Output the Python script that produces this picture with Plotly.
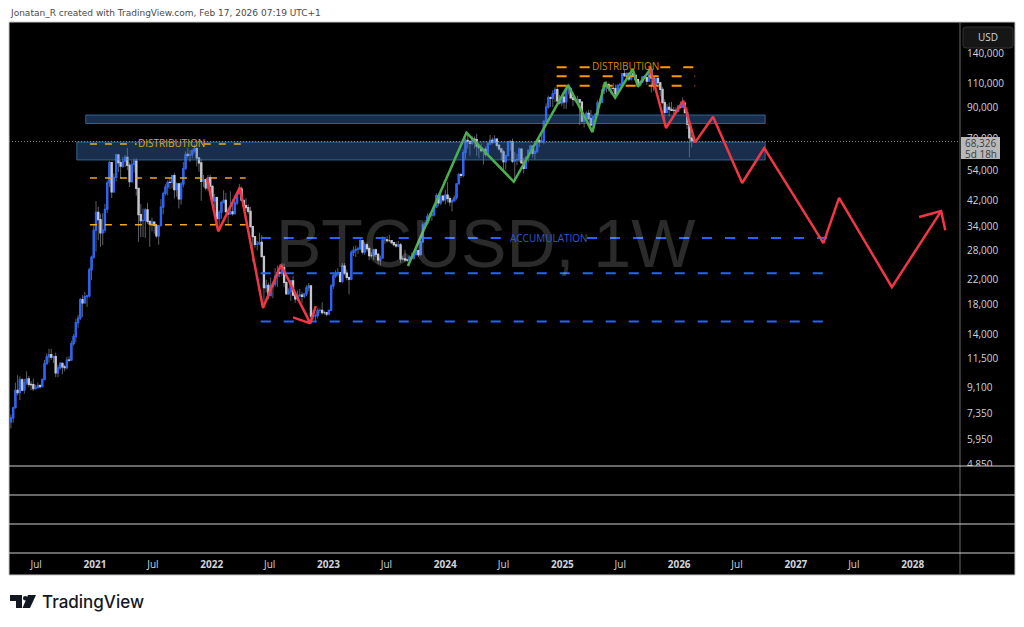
from math import log10

import pandas as pd
import plotly.graph_objects as go

# weekly BTCUSD candles
week_start = "2020-04-06"

closes = [
    # 2020
    6860, 7090, 7700, 8880, 8720, 9680, 8900, 9450, 9750, 9330, 9300, 9010, 9070,
    9230, 9160, 9700, 11050, 11680, 11900, 11650, 11700, 10250, 10680, 11080, 10770,
    10700, 11380, 11370, 13030, 13800, 15480, 16060, 18700, 18180, 19150, 19270,
    23860, 26450, 33000,
    # 2021
    38200, 36000, 32300, 33100, 39200, 48600, 57500, 45200, 50900, 61200, 57400,
    55800, 58000, 60000, 56200, 49100, 56600, 58200, 46500, 37500, 35700, 35800,
    39000, 35500, 34700, 35300, 34300, 31500, 34300, 39900, 44600, 47000, 48900,
    48800, 51700, 46000, 48300, 42700, 48200, 54700, 61500, 60900, 61300, 63300,
    64500, 59700, 57300, 49300, 50000, 46700, 50800, 47300,
    # 2022
    41900, 43100, 36300, 38200, 41400, 42200, 38400, 37700, 38400, 37800, 41300,
    44500, 46300, 42200, 40400, 39700, 38500, 34000, 31300, 29400, 29500, 29900,
    26600, 20600, 21000, 19300, 20800, 21200, 22600, 23300, 23200, 24300, 21500,
    19600, 20000, 21800, 19400, 18800, 19300, 19400, 19200, 19600, 20600, 20900,
    16300, 16300, 16400, 17100, 17100, 16800, 16800, 16600,
    # 2023
    17100, 20900, 22700, 23100, 23300, 21700, 24600, 23200, 22400, 22100, 27500,
    28000, 28200, 28300, 30300, 27600, 29300, 28400, 26800, 26800, 28100, 27100,
    25900, 26300, 30500, 30500, 30300, 30300, 29800, 29300, 29000, 29300, 26100,
    26100, 25900, 25800, 26500, 26300, 27000, 27900, 27000, 30000, 34500, 35000,
    37000, 37300, 37400, 39900, 43800, 41300, 43700, 42300,
    # 2024
    44000, 42800, 41600, 42000, 43000, 48300, 52100, 51700, 62400, 68900, 68400,
    67200, 69700, 69400, 65700, 64900, 63400, 64000, 61500, 67000, 69000, 67800,
    69600, 66200, 64300, 62700, 57900, 60800, 68100, 68200, 58200, 58700, 58900,
    64200, 57300, 54800, 60000, 63500, 65800, 62000, 62900, 69000, 68000, 68700,
    80500, 90500, 97900, 97200, 101200, 104500, 95200, 93700, 98300,
    # 2025
    94500, 104500, 105100, 97700, 96500, 96100, 96300, 94300, 80700, 82600, 86100,
    82400, 78300, 83700, 85200, 93700, 94300, 104100, 106500, 109000, 105600, 105700,
    105500, 101000, 108300, 109200, 119100, 117300, 119400, 114200, 119300, 117400,
    113500, 108300, 111100, 116000, 115300, 112000, 123500, 115000, 108700, 114500,
    110600, 104700, 94000, 86800, 90400, 89000, 88200, 88100, 87500, 91400,
    # 2026
    90500, 93600, 86500, 78700, 70300, 68800, 68326,
]

highs = [
    # 2020
    7470, 7290, 7770, 9460, 10060, 9950, 9830, 9740, 10380, 10000, 9590, 9780, 9300,
    9470, 9350, 9800, 11400, 12000, 12480, 12480, 11800, 12090, 10950, 11180, 11000,
    10950, 11700, 11730, 13350, 14090, 15950, 16480, 18950, 19400, 19900, 19420,
    24300, 26800, 34800,
    # 2021
    41900, 40000, 37800, 38000, 41000, 49700, 58300, 57500, 52600, 61800, 60600,
    58400, 60200, 61200, 64900, 57500, 58500, 59500, 59500, 46600, 40900, 39400,
    39500, 41300, 35500, 36600, 35100, 34600, 34500, 42600, 45300, 48100, 49700,
    50500, 51900, 52900, 48800, 48300, 49000, 57800, 62900, 65000, 63700, 64200,
    66800, 66400, 59500, 59000, 51900, 50200, 51900, 52000,
    # 2022
    47600, 44400, 43500, 38900, 41900, 45800, 44800, 39800, 45400, 42500, 42300,
    45100, 48200, 47200, 41500, 42900, 40800, 40000, 32600, 31400, 30200, 32300,
    31700, 26900, 22000, 21500, 22400, 21600, 24200, 24700, 23600, 25200, 25100,
    21800, 20500, 21900, 22700, 19700, 20100, 20400, 19900, 19700, 21000, 21400,
    21000, 17200, 16700, 17400, 17400, 18300, 17000, 16900,
    # 2023
    17200, 21200, 23300, 23800, 24200, 23400, 25200, 25200, 23900, 22600, 28000,
    28900, 29100, 28800, 31000, 30500, 30000, 29800, 28900, 27500, 28300, 28400,
    27400, 26800, 31400, 31000, 31400, 31800, 30400, 30000, 30000, 30200, 29700,
    26800, 28100, 26100, 26800, 27500, 27300, 28600, 28000, 30300, 35300, 35900,
    37900, 38000, 38400, 40200, 44700, 43400, 44300, 43800,
    # 2024
    45900, 49000, 43600, 42800, 43900, 48600, 52800, 52900, 64000, 70100, 73800,
    68100, 71600, 71300, 72800, 67200, 67200, 64700, 65500, 67700, 72000, 70600,
    71900, 70200, 67000, 63400, 63800, 61300, 68400, 69000, 70000, 62700, 61800,
    65000, 64500, 59800, 60600, 64100, 66500, 65500, 64500, 69400, 70000, 73600,
    81500, 93400, 99600, 98900, 104000, 106500, 108300, 99900, 99000,
    # 2025
    102700, 106400, 109500, 106400, 102500, 98900, 99500, 96500, 95000, 84500, 87500,
    88700, 88500, 84000, 86400, 95800, 97400, 104300, 106700, 112000, 110700, 106800,
    110400, 108900, 108800, 110500, 119400, 123200, 120200, 119800, 119700, 124500,
    117600, 113400, 113400, 116700, 117900, 113500, 125500, 126200, 115900, 114900,
    116400, 107500, 107000, 96600, 93000, 94100, 94600, 90500, 90500, 91800,
    # 2026
    94800, 97900, 93300, 90400, 79300, 72200, 70000,
]

lows = [
    # 2020
    6770, 6500, 6810, 7660, 8520, 8200, 8810, 8640, 9300, 9100, 8900, 8830, 8950,
    9050, 9000, 9150, 9650, 10960, 11150, 11400, 11110, 9900, 9880, 10500, 10140,
    10370, 10530, 11190, 11390, 12800, 13200, 14830, 15800, 16190, 18200, 17600,
    19000, 21900, 26100,
    # 2021
    27700, 30400, 28800, 29200, 32300, 38000, 47000, 43000, 45000, 49300, 53200,
    50400, 55000, 55400, 54000, 47000, 48800, 53000, 43800, 30000, 31200, 31200,
    31000, 34800, 28800, 32700, 32100, 31000, 29300, 34000, 37600, 43800, 43900,
    46300, 46500, 42800, 43500, 39500, 40700, 46900, 54200, 59500, 57800, 59500,
    62300, 55700, 53300, 42000, 47000, 45700, 45600, 45700,
    # 2022
    40500, 39700, 34000, 32900, 36300, 41700, 38000, 34300, 37500, 37200, 37600,
    40500, 44200, 41900, 39200, 38600, 37600, 33700, 25400, 28600, 28000, 29300,
    26600, 17600, 19800, 18700, 19300, 18900, 20800, 20700, 22500, 22700, 20800,
    19600, 19500, 18500, 19300, 18200, 18500, 19100, 18200, 18900, 19200, 20000,
    15600, 16000, 15500, 16000, 16700, 16500, 16500, 16300,
    # 2023
    16500, 17000, 20400, 22300, 22600, 21400, 21400, 22800, 21900, 19500, 21900,
    26700, 26500, 27200, 28200, 27100, 26950, 27700, 25800, 26400, 25900, 26500,
    25000, 24800, 26200, 29500, 29800, 29900, 29500, 28900, 28600, 28700, 25300,
    25800, 25400, 25400, 24900, 26000, 25900, 27100, 26500, 26900, 29900, 33400,
    34500, 35500, 35700, 36900, 39900, 40200, 40500, 41500,
    # 2024
    40800, 41500, 40300, 38500, 41900, 42400, 48300, 50600, 50900, 59000, 64500,
    60800, 66300, 64500, 60800, 59600, 62400, 56500, 60200, 60700, 66600, 66700,
    68500, 65000, 63400, 58500, 53500, 54300, 60700, 63400, 57200, 49100, 56200,
    57800, 57200, 52600, 54600, 57500, 62700, 59900, 58900, 62000, 65200, 67500,
    66800, 80300, 89400, 90800, 90500, 94200, 92100, 92500, 91300,
    # 2025
    89300, 89300, 100500, 97800, 91200, 94100, 93400, 78200, 79900, 76600, 81100,
    81600, 77100, 74500, 83000, 83800, 92900, 93400, 100700, 102100, 103000, 100400,
    102700, 98200, 99600, 105100, 107500, 115800, 114700, 112000, 112700, 116800,
    111700, 107300, 107300, 110600, 114500, 108700, 111600, 102000, 103500, 106800,
    106300, 98900, 93000, 80600, 85900, 83800, 87700, 84500, 86600, 86900,
    # 2026
    89300, 90200, 86200, 75700, 60000, 65100, 67500,
]

# drawn zigzags
red_fall_dates = ["2021-12-17", "2022-01-21", "2022-03-30", "2022-06-10", "2022-08-05",
                  "2022-11-05", "2022-11-22", None, "2022-09-12", "2022-11-05"]
red_fall_prices = [50630, 32700, 46900, 17440, 24870, 15380, 17730, None, 16160, 15380]

green_dates = ["2023-09-06", "2024-03-07", "2024-08-02", "2025-01-19", "2025-04-05",
               "2025-05-14", "2025-06-15", "2025-08-09", "2025-08-25", "2025-10-05"]
green_prices = [24600, 73400, 49100, 108500, 73800, 111000, 97800, 123800, 107000, 124500]

red_path_dates = ["2025-09-30", "2025-11-21", "2026-01-14", "2026-02-20", "2026-04-17",
                  "2026-07-17", "2026-09-24", "2027-03-28", "2027-05-16", "2027-10-28",
                  "2028-03-30", None, "2028-01-21", "2028-03-30", "2028-04-12"]
red_path_prices = [127100, 76300, 95400, 67800, 83700, 48600, 64750, 29700, 43000, 20700,
                   38600, None, 36800, 38600, 33000]

# levels and zones
left_dist_levels = [66900, 50630, 34500]
accum_levels = [30950, 23200, 15600]
top_dist_levels = [125500, 116600, 107900]
zones = [("2020-12-03", "2026-09-27", 79200, 84900),
         ("2020-11-05", "2026-09-27", 58700, 68000)]
last_price = 68326

price_ticks = [140000, 110000, 90000, 70000, 54000, 42000, 34000, 28000, 22000, 18000,
               14000, 11500, 9100, 7350, 5950, 4850]
time_ticks = ["2020-07-01", "2021-01-01", "2021-07-01", "2022-01-01", "2022-07-01",
              "2023-01-01", "2023-07-01", "2024-01-01", "2024-07-01", "2025-01-01",
              "2025-07-01", "2026-01-01", "2026-07-01", "2027-01-01", "2027-07-01",
              "2028-01-01"]
time_labels = ["Jul", "<b>2021</b>", "Jul", "<b>2022</b>", "Jul", "<b>2023</b>", "Jul",
               "<b>2024</b>", "Jul", "<b>2025</b>", "Jul", "<b>2026</b>", "Jul",
               "<b>2027</b>", "Jul", "<b>2028</b>"]

W, H = 1024, 627
LEFT, RIGHT, TOP, BOTTOM = 9, 1015, 22, 553
AXIS_X, PANE_Y, FRAME_BOTTOM = 960, 466, 575


def px(x):
    return (x - LEFT) / (RIGHT - LEFT)


def py(y):
    return (BOTTOM - y) / (BOTTOM - TOP)


dates = pd.date_range(week_start, periods=len(closes), freq="7D")
opens = [closes[0]] + closes[:-1]
opens[0] = 6770
body_tops = [max(o, c) for o, c in zip(opens, closes)]
body_bottoms = [min(o, c) for o, c in zip(opens, closes)]

fig = go.Figure()

# wicks are dimmer than the bodies, so they get their own trace underneath
fig.add_trace(go.Candlestick(
    x=dates, open=opens, high=highs, low=lows, close=closes,
    increasing=dict(line=dict(color="#5c5f66", width=1), fillcolor="#5c5f66"),
    decreasing=dict(line=dict(color="#5c5f66", width=1), fillcolor="#5c5f66"),
    whiskerwidth=0,
))
fig.add_trace(go.Candlestick(
    x=dates, open=opens, high=body_tops, low=body_bottoms, close=closes,
    increasing=dict(line=dict(color="#2962ff", width=1.2), fillcolor="#2962ff"),
    decreasing=dict(line=dict(color="#c4c6cc", width=1.2), fillcolor="#c4c6cc"),
    whiskerwidth=0,
))

# zones sit over the candles but under the drawn lines
for x0, x1, low, high in zones:
    fig.add_trace(go.Scatter(
        x=[x0, x1, x1, x0, x0], y=[low, low, high, high, low],
        mode="lines", fill="toself", hoverinfo="skip",
        fillcolor="rgba(66,120,200,0.38)",
        line=dict(color="rgba(70,150,215,0.6)", width=1),
    ))


def add_line(x, y, color, width=2.5, dash=None):
    fig.add_trace(go.Scatter(x=x, y=y, mode="lines", hoverinfo="skip",
                             line=dict(color=color, width=width, dash=dash)))


# dashed levels, the first of each group leaves a gap for its label
amber, orange, blue = "#f0a81e", "#ff9800", "#2962ff"
d1, d2 = "7px,8px", "10px,13px"
for i, level in enumerate(left_dist_levels):
    x = ["2020-12-16", "2022-04-17"]
    y = [level, level]
    if i == 0:
        x = ["2020-12-16", "2021-05-11", None, "2021-12-07", "2022-04-17"]
        y = [level, level, None, level, level]
    add_line(x, y, amber, 1.5, d1)
for i, level in enumerate(accum_levels):
    x = ["2022-06-03", "2027-04-12"]
    y = [level, level]
    if i == 0:
        x = ["2022-06-03", "2024-07-24", None, "2025-03-19", "2027-04-12"]
        y = [level, level, None, level, level]
    add_line(x, y, blue, 2, d2)
for i, level in enumerate(top_dist_levels):
    x = ["2024-12-14", "2026-02-20"]
    y = [level, level]
    if i == 0:
        x = ["2024-12-14", "2025-03-29", None, "2025-11-03", "2026-02-20"]
        y = [level, level, None, level, level]
    add_line(x, y, orange, 2, d2)

add_line(red_fall_dates, red_fall_prices, "#f23645")
add_line(green_dates, green_prices, "#4caf50")
add_line(red_path_dates, red_path_prices, "#f23645")

shapes = [
    # black chart frame with the panes below the price pane
    dict(type="rect", xref="paper", yref="paper", x0=0, x1=1,
         y0=py(FRAME_BOTTOM), y1=1, layer="below", fillcolor="#000000",
         line=dict(color="#c8c8c8", width=1)),
    # covers the lower half of the last price label, as the pane does in the original
    dict(type="rect", xref="paper", yref="paper", x0=px(AXIS_X + 1), x1=px(RIGHT - 1),
         y0=py(495), y1=py(PANE_Y), fillcolor="#000000", line=dict(width=0)),
    dict(type="line", xref="paper", yref="paper", x0=px(AXIS_X), x1=px(AXIS_X),
         y0=py(FRAME_BOTTOM), y1=1, line=dict(color="#6a6a6a", width=1)),
    dict(type="line", xref="x domain", yref="y", x0=0, x1=1,
         y0=last_price, y1=last_price, line=dict(color="#8a8a8a", width=1, dash="1px,2px")),
    # last price box
    dict(type="rect", xref="paper", yref="paper", x0=px(961), x1=px(1000),
         y0=py(159), y1=py(137), fillcolor="#b8b8b8", line=dict(width=0)),
    # currency button
    dict(type="path", xref="paper", yref="paper", fillcolor="#161616",
         line=dict(color="#333333", width=1),
         path=f"M {px(966)} {py(27)} L {px(1010)} {py(27)} Q {px(1013)} {py(27)} {px(1013)} {py(30)} "
              f"L {px(1013)} {py(45)} Q {px(1013)} {py(48)} {px(1010)} {py(48)} "
              f"L {px(966)} {py(48)} Q {px(963)} {py(48)} {px(963)} {py(45)} "
              f"L {px(963)} {py(30)} Q {px(963)} {py(27)} {px(966)} {py(27)} Z"),
]
for pane_y in [PANE_Y, 495, 524, BOTTOM]:
    shapes.append(dict(type="line", xref="paper", yref="paper", x0=0, x1=1,
                       y0=py(pane_y), y1=py(pane_y), line=dict(color="#d0d0d0", width=1)))

# logo mark
logo = [
    f"M {px(10)} {py(595)} L {px(22)} {py(595)} L {px(22)} {py(608)} L {px(16)} {py(608)} "
    f"L {px(16)} {py(601)} L {px(10)} {py(601)} Z",
    f"M {px(28)} {py(595)} L {px(36)} {py(595)} L {px(30)} {py(608)} L {px(22.5)} {py(608)} Z",
]
for path in logo:
    shapes.append(dict(type="path", xref="paper", yref="paper", path=path,
                       fillcolor="#131722", line=dict(width=0)))
shapes.append(dict(type="circle", xref="paper", yref="paper", x0=px(23), x1=px(27.5),
                   y0=py(600.5), y1=py(596), fillcolor="#131722", line=dict(width=0)))


def note(x, y, text, color, size, family="Open Sans", anchor="left", weight=None, **kw):
    return dict(xref="paper", yref="paper", x=px(x), y=py(y), text=text, showarrow=False,
                xanchor=anchor, yanchor="middle",
                font=dict(color=color, size=size, family=family, weight=weight), **kw)


def level_label(date, price, text, color):
    # annotations on a log axis take the log of the value
    return dict(xref="x", yref="y", x=date, y=log10(price), text=text, showarrow=False,
                font=dict(color=color, size=10, family="Open Sans"))


annotations = [
    note(9, 13.5, "Jonatan_R created with TradingView.com, Feb 17, 2026 07:19 UTC+1",
         "#4a4a4a", 9, "DejaVu Sans", xshift=-1),
    note(485, 243, "BTCUSD, 1W", "rgba(255,255,255,0.17)", 68, "Liberation Sans", "center"),
    level_label("2021-08-28", 67300, "DISTRIBUTION", "#e0a526"),
    level_label("2024-11-20", 30950, "ACCUMULATION", "#2a5bd0"),
    level_label("2025-07-18", 126800, "DISTRIBUTION", "#d98500"),
    note(988, 37.5, "USD", "#d1d4dc", 10, anchor="center"),
    note(980.5, 143, "68,326", "#3c3c3c", 10, anchor="center"),
    note(980.5, 153.5, "5d 18h", "#3c3c3c", 10, anchor="center"),
    note(42, 602, "TradingView", "#131722", 17, "Inter", weight=500, xshift=-2),
]

fig.update_layout(
    width=W, height=H,
    autosize=False,
    margin=dict(l=LEFT, r=W - RIGHT, t=TOP, b=H - BOTTOM),
    paper_bgcolor="#ffffff",
    plot_bgcolor="#000000",
    showlegend=False,
    shapes=shapes,
    annotations=annotations,
    xaxis=dict(
        type="date",
        domain=[0, px(AXIS_X)],
        range=["2020-04-07", "2028-05-28"],
        rangeslider=dict(visible=False),
        anchor="free", position=0,
        tickmode="array", tickvals=time_ticks, ticktext=time_labels,
        tickfont=dict(color="#d1d4dc", size=10, family="Open Sans"),
        ticks="", ticklabelstandoff=4,
        showgrid=False, zeroline=False, showline=False,
    ),
    yaxis=dict(
        type="log",
        domain=[py(PANE_Y), 1],
        range=[3.679, 5.26],
        side="right",
        tickmode="array", tickvals=price_ticks,
        ticktext=[f"{t:,}" for t in price_ticks],
        tickfont=dict(color="#d1d4dc", size=10, family="Open Sans"),
        ticks="", ticklabelstandoff=6,
        showgrid=False, zeroline=False, showline=False,
    ),
)

# the page's default body margin would push the chart off its place
fig.write_html("out.html", config=dict(displayModeBar=False),
               post_script="document.body.style.margin = '0';")
